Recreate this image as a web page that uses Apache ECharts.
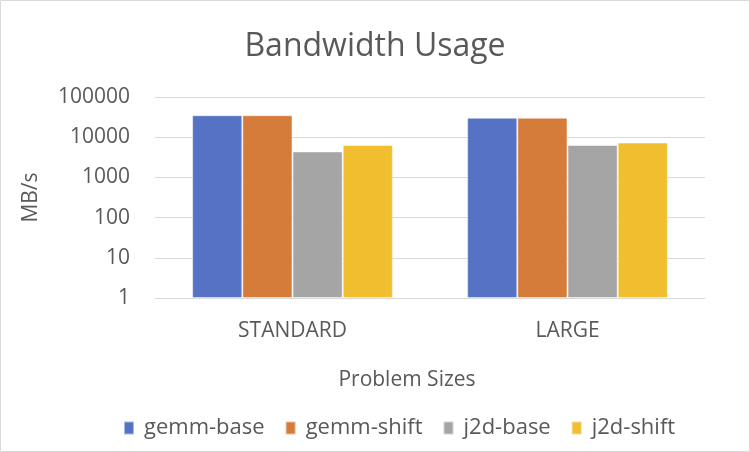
<!DOCTYPE html>
<html><head><meta charset="utf-8">
<script src="https://cdn.jsdelivr.net/npm/echarts@6/dist/echarts.min.js"></script>
<style>html,body{margin:0;padding:0;background:#fff}#c{width:750px;height:452px}</style>
</head><body><div id="c"></div>
<script>
const categories = ['STANDARD', 'LARGE'];
const seriesNames = ['gemm-base', 'gemm-shift', 'j2d-base', 'j2d-shift'];
const gemmBase = [35200, 30600];
const gemmShift = [35200, 30600];
const j2dBase = [4440, 6400];
const j2dShift = [6400, 7350];
const colors = ['#5572C4', '#D67C3A', '#A5A5A5', '#F0BE2F'];
const seriesValues = [gemmBase, gemmShift, j2dBase, j2dShift];
const font = '"Open Sans", sans-serif';
const chart = echarts.init(document.getElementById('c'));
chart.setOption({
  animation: false,
  title: { text: 'Bandwidth Usage', left: 'center', top: 26, textStyle: { fontFamily: font, fontSize: 32, fontWeight: 'normal', color: '#595959' } },
  grid: { left: 155, right: 45, top: 97, bottom: 154 },
  legend: { bottom: 8, left: 118, itemWidth: 10, itemHeight: 13, itemGap: 20, icon: 'rect',
    textStyle: { fontFamily: font, fontSize: 22, color: '#595959', padding: [0, 0, 0, 5] }, data: seriesNames },
  xAxis: { type: 'category', data: categories, name: 'Problem Sizes', nameLocation: 'middle', nameGap: 72,
    nameTextStyle: { fontFamily: font, fontSize: 21, color: '#595959', padding: [0, 46, 0, 0] },
    axisTick: { show: false }, axisLine: { lineStyle: { color: '#d9d9d9' } },
    axisLabel: { fontFamily: font, fontSize: 21, color: '#595959', margin: 23 } },
  yAxis: { type: 'log', logBase: 10, min: 1, max: 100000, name: 'MB/s', nameLocation: 'middle', nameGap: 113, nameRotate: 90,
    nameTextStyle: { fontFamily: font, fontSize: 21, color: '#595959' },
    axisLine: { show: false }, axisTick: { show: false },
    splitLine: { lineStyle: { color: '#d9d9d9' } },
    axisLabel: { fontFamily: font, fontSize: 21, color: '#595959', margin: 25, formatter: v => String(Math.round(v)) } },
  graphic: [{ type: 'rect', shape: { x: 0.5, y: 0.5, width: 749, height: 451 }, style: { fill: 'none', stroke: '#d9d9d9', lineWidth: 1 } }],
  series: seriesNames.map((n, i) => ({
    name: n, type: 'bar', data: seriesValues[i], barGap: '0%', barCategoryGap: '27%',
    itemStyle: { color: colors[i], borderColor: 'rgba(255,255,255,0.5)', borderWidth: 1 }
  }))
});
</script></body></html>
